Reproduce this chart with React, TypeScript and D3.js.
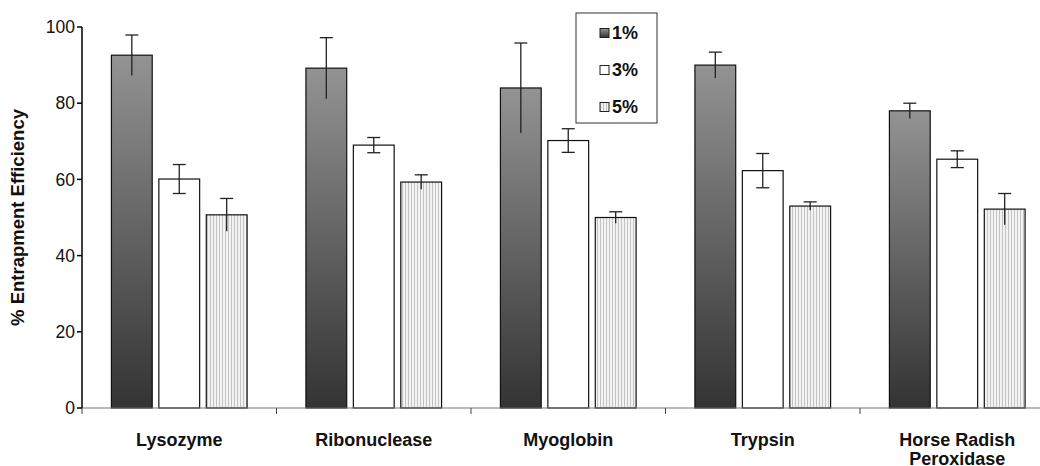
import React from "react";
import * as d3 from "d3";

const categories = ["Lysozyme", "Ribonuclease", "Myoglobin", "Trypsin", "Horse Radish\nPeroxidase"];
const seriesNames = ["1%", "3%", "5%"];
const values1 = [92.6, 89.2, 84.0, 90.0, 78.0];
const errors1 = [5.3, 8.0, 11.8, 3.4, 2.0];
const values3 = [60.1, 69.0, 70.2, 62.3, 65.3];
const errors3 = [3.8, 2.0, 3.1, 4.5, 2.2];
const values5 = [50.7, 59.3, 50.0, 53.0, 52.2];
const errors5 = [4.3, 1.9, 1.5, 1.1, 4.1];
const yTicks = [0, 20, 40, 60, 80, 100];

const W = 1040;
const H = 466;
const left = 82;
const catW = 194.5;

export default function App() {
  const x0 = d3.scaleBand<string>().domain(categories).range([left, left + catW * categories.length]).padding(0);
  const x1 = d3.scaleBand<string>().domain(seriesNames).range([0, x0.bandwidth()]).paddingInner(0.14).paddingOuter(0.62);
  const y = d3.scaleLinear().domain([0, 100]).range([408, 27]);

  const seriesVals = [values1, values3, values5];
  const seriesErr = [errors1, errors3, errors5];
  const fills = ["url(#grad1)", "#ffffff", "url(#stripes)"];
  const font = "'Liberation Sans', Arial, Helvetica, sans-serif";

  return (
    <svg width={W} height={H} style={{ position: "absolute", left: 0, top: 0, background: "#fff" }} fontFamily={font}>
      <defs>
        <linearGradient id="grad1" x1="0" y1="0" x2="0" y2="1">
          <stop offset="0" stopColor="#939393" />
          <stop offset="1" stopColor="#333333" />
        </linearGradient>
        <pattern id="stripes" width="3" height="4" patternUnits="userSpaceOnUse">
          <rect width="3" height="4" fill="#f2f2f2" />
          <rect x="0" width="1" height="4" fill="#c4c4c4" />
        </pattern>
      </defs>

      {/* bars */}
      {seriesNames.map((s, si) =>
        categories.map((c, ci) => {
          const v = seriesVals[si][ci];
          const bx = (x0(c) as number) + (x1(s) as number);
          return (
            <rect key={s + c} x={bx} y={y(v)} width={x1.bandwidth()} height={y(0) - y(v)}
              fill={fills[si]} stroke="#111" strokeWidth={1.2} />
          );
        })
      )}

      {/* error bars */}
      {seriesNames.map((s, si) =>
        categories.map((c, ci) => {
          const v = seriesVals[si][ci];
          const e = seriesErr[si][ci];
          const cx = (x0(c) as number) + (x1(s) as number) + x1.bandwidth() / 2;
          const hw = 6.5;
          return (
            <g key={"e" + s + c} stroke="#222" strokeWidth={1.3}>
              <line x1={cx} x2={cx} y1={y(v + e)} y2={y(v - e)} />
              <line x1={cx - hw} x2={cx + hw} y1={y(v + e)} y2={y(v + e)} />
              {si === 1 && <line x1={cx - hw} x2={cx + hw} y1={y(v - e)} y2={y(v - e)} />}
            </g>
          );
        })
      )}

      {/* x axis */}
      <line x1={left} x2={W} y1={y(0)} y2={y(0)} stroke="#777" strokeWidth={1.2} />
      {categories.map((c) => (
        <line key={"xt" + c} x1={x0(c) as number} x2={x0(c) as number} y1={y(0)} y2={y(0) + 6} stroke="#444" strokeWidth={1} />
      ))}
      {categories.map((c) => {
        const lines = c.split("\n");
        const cx = (x0(c) as number) + x0.bandwidth() / 2;
        return (
          <text key={"xl" + c} x={cx} y={446} textAnchor="middle" fontWeight="bold" fontSize={18} fill="#111">
            {lines.map((l, i) => (
              <tspan key={i} x={cx} dy={i === 0 ? 0 : 18.5}>{l}</tspan>
            ))}
          </text>
        );
      })}

      {/* y axis */}
      <line x1={left} x2={left} y1={y(0)} y2={y(100)} stroke="#000" strokeWidth={1.5} />
      {yTicks.map((t) => (
        <g key={"yt" + t}>
          <line x1={left - 5} x2={left} y1={y(t)} y2={y(t)} stroke="#000" strokeWidth={1.5} />
          <text x={left - 7} y={y(t)} dy="0.35em" textAnchor="end" fontSize={17.5} fill="#111">{t}</text>
        </g>
      ))}
      <text transform={`translate(24, ${(y(0) + y(100)) / 2}) rotate(-90)`} textAnchor="middle" fontWeight="bold" fontSize={18.5} fill="#111">
        % Entrapment Efficiency
      </text>

      {/* legend */}
      <rect x={576} y={13} width={81} height={110} fill="#fff" stroke="#333" strokeWidth={1} />
      {seriesNames.map((s, si) => {
        const ly = 33 + si * 37;
        return (
          <g key={"lg" + s}>
            <rect x={600} y={ly - 4.5} width={9} height={9} fill={fills[si]} stroke="#222" strokeWidth={1} />
            <text x={612} y={ly} dy="0.36em" fontWeight="bold" fontSize={18} fill="#111">{s}</text>
          </g>
        );
      })}
    </svg>
  );
}
